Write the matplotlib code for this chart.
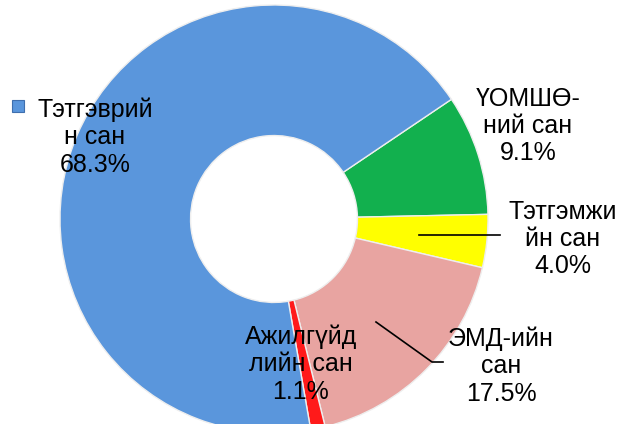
import matplotlib.pyplot as plt
from matplotlib.patches import Rectangle

# Shares of the funds (%), order follows the ring clockwise from the top right
labels = ["ҮОМШӨ-\nний сан", "Тэтгэмжи\nйн сан", "ЭМД-ийн\nсан", "Ажилгүйд\nлийн сан", "Тэтгэврий\nн сан"]
shares = [9.1, 4.0, 17.5, 1.1, 68.3]
colors = ["#12B04E", "#FFFF00", "#E8A4A1", "#FF1A1A", "#5A96DC"]

plt.rcParams["font.family"] = ["Liberation Sans", "DejaVu Sans"]

fig = plt.figure(figsize=(6.17, 4.24), dpi=100)
ax = fig.add_axes([0, 0, 1, 1])

wedges, _ = ax.pie(shares, colors=colors, startangle=34, counterclock=False,
                   center=(274, 205), radius=214, frame=True,
                   wedgeprops=dict(width=214 * 0.61, edgecolor="#eeeeee", linewidth=1.0))
ax.set_xlim(0, 617)
ax.set_ylim(0, 424)
ax.set_aspect("equal")
ax.axis("off")

# label positions (pixel coordinates)
pos = [(528, 298), (563, 185), (501, 58), (301, 60), (95, 287)]
for lab, val, (x, y) in zip(labels, shares, pos):
    ax.text(x, y, f"{lab}\n{val:.1f}%", ha="center", va="center",
            fontsize=18, linespacing=1.18, color="black")

# leader lines
ax.plot([419, 500], [189, 189], color="black", lw=1.2)
ax.plot([376, 432, 443], [102, 62, 62], color="black", lw=1.2)

# legend key next to the first label
ax.add_patch(Rectangle((12, 312), 12, 12, facecolor=colors[-1], edgecolor="#3f6fae", lw=0.8))

fig.savefig("out.png", dpi=100)
